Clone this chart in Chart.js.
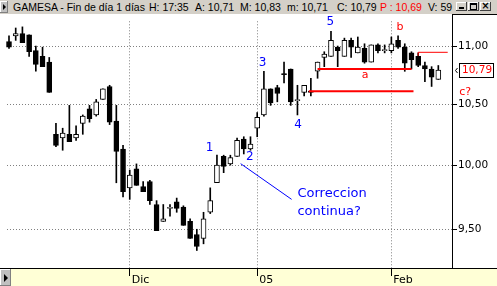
<!DOCTYPE html>
<html>
<head>
<meta charset="utf-8">
<script src="https://cdn.jsdelivr.net/npm/chart.js@4.4.0/dist/chart.umd.min.js"></script>
<style>
  html, body { margin: 0; padding: 0; background: #fff; }
  #wrap { position: relative; width: 497px; height: 286px; overflow: hidden; font-family: "Liberation Sans", Arial, sans-serif; }
  #title { position: absolute; left: 0; top: 0; width: 497px; height: 14px; background: #d4d0c8; font-size: 10.5px; line-height: 14px; color: #000; }
  #title span { position: absolute; top: 0; white-space: pre; }
  #title .red { color: #f00; }
  .lbtn { position: absolute; left: 0; background: #c0c0c0; box-shadow: inset -1px -1px #808080, inset 1px 1px #fff; }
  .tri { position: absolute; width: 0; height: 0; border-top: 3px solid transparent; border-bottom: 3px solid transparent; border-left: 3px solid #000; }
  .wb { position: absolute; top: 2px; width: 11px; height: 9px; background: #d4d0c8; box-shadow: inset -1px -1px #404040, inset 1px 1px #fff; }
  .wb i { position: absolute; display: block; }
  canvas { position: absolute; left: 0; top: 14px; }
</style>
</head>
<body>
<div id="wrap">
  <div id="title">
    <div class="lbtn" style="top:1px;width:8px;height:12px"><div class="tri" style="left:3px;top:3px"></div></div>
    <span style="left:13px">GAMESA - Fin de día 1 días</span>
    <span style="left:149px">H: 17:35</span>
    <span id="t-a" style="left:195px"></span>
    <span id="t-m" style="left:240px"></span>
    <span id="t-l" style="left:287px"></span>
    <span id="t-c" style="left:337px"></span>
    <span class="red" style="left:380px">P : 10,69</span>
    <span style="left:428px">V: 59</span>
    <div class="wb" style="left:456px"><i style="left:3px;top:5px;width:5px;height:2px;background:#000"></i></div>
    <div class="wb" style="left:468px"><i style="left:2px;top:1px;width:5px;height:4px;border:1px solid #000;border-top-width:2px"></i></div>
    <div class="wb" style="left:480px"><i style="left:0;top:-3px;width:11px;text-align:center;font:bold 10px 'DejaVu Sans';line-height:14px">×</i></div>
  </div>
  <canvas id="chart" width="497" height="272"></canvas>
  <div class="lbtn" style="top:269px;width:11px;height:17px"><div class="tri" style="left:4px;top:5px;border-top-width:4px;border-bottom-width:4px;border-left-width:4px"></div></div>
</div>
<script>
// velas diarias GAMESA (indice 0 = primera vela visible)
const OPEN  = [11.04, 11.09, 11.11, 11.10, 10.96, 10.91, 10.86, 10.25, 10.22, 10.25,
               10.22, 10.34, 10.46, 10.41, 10.54, 10.65, 10.36, 10.13, 9.82, 9.97,
               9.83, 9.87, 9.69, 9.56, 9.66, 9.71, 9.67, 9.56, 9.46, 9.43,
               9.63, 9.86, 10.07, 10.01, 10.07, 10.21, 10.13, 10.30, 10.41, 10.63,
               10.64, 10.76, 10.80, 10.53, 10.60, 10.61, 10.78, 10.90, 10.91, 10.99,
               10.91, 11.05, 10.94, 10.98, 10.86, 11.01, 10.96, 10.96, 11.05, 10.99,
               10.94, 10.91, 10.83, 10.80, 10.71];
const HIGH  = [11.09, 11.16, 11.17, 11.10, 11.00, 10.99, 10.90, 10.34, 10.30, 10.49,
               10.32, 10.41, 10.49, 10.54, 10.63, 10.66, 10.49, 10.16, 9.96, 10.01,
               9.87, 9.88, 9.72, 9.69, 9.69, 9.74, 9.68, 9.58, 9.50, 9.63,
               9.82, 10.08, 10.08, 10.08, 10.22, 10.23, 10.23, 10.43, 10.78, 10.63,
               10.66, 10.86, 10.80, 10.66, 10.66, 10.72, 10.86, 10.95, 11.13, 11.00,
               11.07, 11.07, 11.08, 11.02, 11.01, 11.02, 11.01, 11.08, 11.09, 11.02,
               10.95, 10.94, 10.86, 10.82, 10.83];
const LOW   = [10.98, 11.05, 11.03, 10.91, 10.78, 10.82, 10.60, 10.15, 10.12, 10.19,
               10.20, 10.25, 10.35, 10.40, 10.54, 10.33, 9.86, 9.75, 9.73, 9.84,
               9.79, 9.69, 9.49, 9.56, 9.60, 9.63, 9.53, 9.43, 9.34, 9.39,
               9.62, 9.86, 9.94, 10.00, 10.07, 10.09, 10.12, 10.23, 10.40, 10.49,
               10.52, 10.68, 10.49, 10.41, 10.57, 10.57, 10.72, 10.82, 10.91, 10.82,
               10.91, 10.90, 10.94, 10.85, 10.86, 10.94, 10.94, 10.94, 10.98, 10.78,
               10.80, 10.82, 10.69, 10.65, 10.71];
const CLOSE = [10.99, 11.11, 11.03, 10.95, 10.84, 10.82, 10.60, 10.16, 10.26, 10.19,
               10.25, 10.40, 10.38, 10.52, 10.63, 10.35, 10.11, 9.79, 9.92, 9.84,
               9.79, 9.72, 9.49, 9.58, 9.66, 9.66, 9.53, 9.43, 9.37, 9.58,
               9.72, 10.00, 9.99, 10.06, 10.20, 10.13, 10.17, 10.39, 10.63, 10.51,
               10.59, 10.75, 10.52, 10.53, 10.66, 10.60, 10.86, 10.93, 11.05, 10.96,
               11.05, 10.99, 10.99, 10.86, 11.01, 10.96, 10.96, 11.02, 10.99, 10.85,
               10.88, 10.83, 10.80, 10.73, 10.79];

// eje temporal: primera vela de cada mes
const X_TICKS = [18, 37, 57];
const X_LABELS = ['Dic', '05', 'Feb'];
const Y_TICKS = [9.5, 10, 10.5, 11];

// lineas rojas (indice de vela, precio)
const LEVEL_A = [{ x: 46, y: 10.80 }, { x: 60, y: 10.80 }];
const LEVEL_LOW = [{ x: 44.7, y: 10.61 }, { x: 60.3, y: 10.61 }];
const LEVEL_C = [{ x: 61, y: 10.915 }, { x: 61, y: 10.945 }, { x: 65.4, y: 10.945 }];

// etiquetas de ondas
const WAVE_TEXT = ['1', '2', '3', '4', '5', 'b', 'a', 'c?'];
const WAVE_X = [29.9, 35.9, 37.8, 43.1, 47.9, 58.3, 53.1, 68.0];
const WAVE_Y = [10.139, 10.065, 10.853, 10.331, 11.216, 11.164, 10.746, 10.603];

// comentario y su flecha
const NOTE_LINES = ['Correccion', 'continua?'];
const NOTE_X = 43.0;
const NOTE_Y = [9.749, 9.610];
const NOTE_ARROW = [{ x: 34.53, y: 10.012 }, { x: 42.13, y: 9.730 }];

const fmt = v => v.toFixed(2).replace('.', ',');
const last = CLOSE.length - 1;
document.getElementById('t-a').textContent = 'A: ' + fmt(OPEN[last]);
document.getElementById('t-m').textContent = 'M: ' + fmt(HIGH[last]);
document.getElementById('t-l').textContent = 'm: ' + fmt(LOW[last]);
document.getElementById('t-c').textContent = 'C: ' + fmt(CLOSE[last]);

const bodyColors = CLOSE.map((c, i) => c >= OPEN[i] ? '#fff' : '#000');

const chrome = {
  id: 'chrome',
  beforeDraw(chart) {
    const { ctx, width, height, chartArea } = chart;
    ctx.save();
    ctx.fillStyle = '#ffffd6';
    ctx.fillRect(0, chartArea.bottom, width, height - chartArea.bottom);
    ctx.fillStyle = '#000';
    ctx.fillRect(0, chartArea.bottom, width, 1);
    // marco del panel de precios
    ctx.fillRect(chartArea.right, 0, width - chartArea.right, 1);
    ctx.fillRect(chartArea.right, 0, 1, chartArea.top + 1);
    ctx.restore();
  },
  afterDatasetsDraw(chart) {
    const { ctx, scales: { x, y }, chartArea } = chart;
    ctx.save();
    ctx.textAlign = 'center';
    ctx.textBaseline = 'middle';
    WAVE_TEXT.forEach((t, i) => {
      const isNum = /^\d$/.test(t);
      ctx.fillStyle = isNum ? '#0000ff' : '#ff0000';
      ctx.font = isNum ? '12px "DejaVu Sans"' : '11px "DejaVu Sans"';
      ctx.fillText(t, x.getPixelForValue(WAVE_X[i]), y.getPixelForValue(WAVE_Y[i]));
    });

    // flecha y comentario
    ctx.strokeStyle = '#0000ff';
    ctx.lineWidth = 1;
    ctx.beginPath();
    ctx.moveTo(x.getPixelForValue(NOTE_ARROW[0].x), y.getPixelForValue(NOTE_ARROW[0].y));
    ctx.lineTo(x.getPixelForValue(NOTE_ARROW[1].x), y.getPixelForValue(NOTE_ARROW[1].y));
    ctx.stroke();
    ctx.fillStyle = '#0000ff';
    ctx.font = '13px "DejaVu Sans"';
    ctx.textAlign = 'left';
    ctx.textBaseline = 'alphabetic';
    NOTE_LINES.forEach((t, i) => ctx.fillText(t, x.getPixelForValue(NOTE_X), y.getPixelForValue(NOTE_Y[i])));

    // caja del ultimo precio
    const py = Math.round(y.getPixelForValue(CLOSE[last]));
    const bx = chartArea.right + 7;
    ctx.fillStyle = '#fff';
    ctx.fillRect(bx, py - 7, 34, 15);
    ctx.strokeStyle = '#000';
    ctx.strokeRect(bx + 0.5, py - 6.5, 34, 14);
    ctx.fillStyle = '#ff0000';
    ctx.font = '10.5px "DejaVu Sans"';
    ctx.textBaseline = 'middle';
    ctx.fillText(fmt(CLOSE[last]), bx + 3, py + 0.5);
    ctx.beginPath();
    ctx.moveTo(chartArea.right + 5.5, py - 2);
    ctx.lineTo(chartArea.right + 3.5, py + 0.5);
    ctx.lineTo(chartArea.right + 5.5, py + 3);
    ctx.stroke();
    ctx.restore();
  }
};

const redLine = (data, w) => ({
  type: 'line', data, borderColor: '#ff0000', borderWidth: w,
  pointRadius: 0, tension: 0, order: 0, clip: false
});

new Chart(document.getElementById('chart'), {
  type: 'bar',
  data: {
    datasets: [
      redLine(LEVEL_A, 2),
      redLine(LEVEL_LOW, 2),
      redLine(LEVEL_C, 1),
      {
        data: CLOSE.map((c, i) => ({ x: i, y: [OPEN[i], c] })),
        backgroundColor: bodyColors, borderColor: '#000', borderWidth: 1, borderSkipped: false,
        barThickness: 5, grouped: false, minBarLength: 1, order: 1, clip: false
      },
      {
        data: HIGH.map((h, i) => ({ x: i, y: [LOW[i], h] })),
        backgroundColor: '#000', borderWidth: 0,
        barThickness: 1, grouped: false, minBarLength: 1, order: 2, clip: false
      }
    ]
  },
  options: {
    responsive: false,
    animation: false,
    devicePixelRatio: 1,
    events: [],
    layout: { padding: { left: 7, top: 0, right: 0, bottom: 0 } },
    plugins: { legend: { display: false }, tooltip: { enabled: false } },
    scales: {
      x: {
        type: 'linear', min: -0.298, max: 66.04, offset: false, bounds: 'data',
        afterFit: s => { s.height = 18; },
        afterBuildTicks: s => { s.ticks = X_TICKS.map(v => ({ value: v })); },
        grid: { offset: false, color: '#808080', tickColor: '#000', tickLength: 8, tickBorderDash: [] },
        border: { display: false, dash: [1, 2] },
        ticks: {
          callback: v => X_LABELS[X_TICKS.indexOf(v)],
          align: 'start', labelOffset: 2, padding: -1, autoSkip: false, maxRotation: 0,
          color: '#000', font: { family: 'DejaVu Sans', size: 11, lineHeight: 1 }
        }
      },
      y: {
        type: 'logarithmic', position: 'right', min: 9.21, max: 11.22, bounds: 'data',
        afterFit: s => { s.width = 45; },
        afterBuildTicks: s => { s.ticks = Y_TICKS.map(v => ({ value: v })); },
        grid: { color: '#808080', tickColor: '#000', tickLength: 5, tickBorderDash: [] },
        border: { display: true, color: '#000', width: 1, dash: [1, 2] },
        ticks: {
          callback: v => fmt(v),
          padding: 1, color: '#000',
          font: { family: 'DejaVu Sans', size: 10.5 }
        }
      }
    }
  },
  plugins: [chrome]
});
</script>
</body>
</html>
